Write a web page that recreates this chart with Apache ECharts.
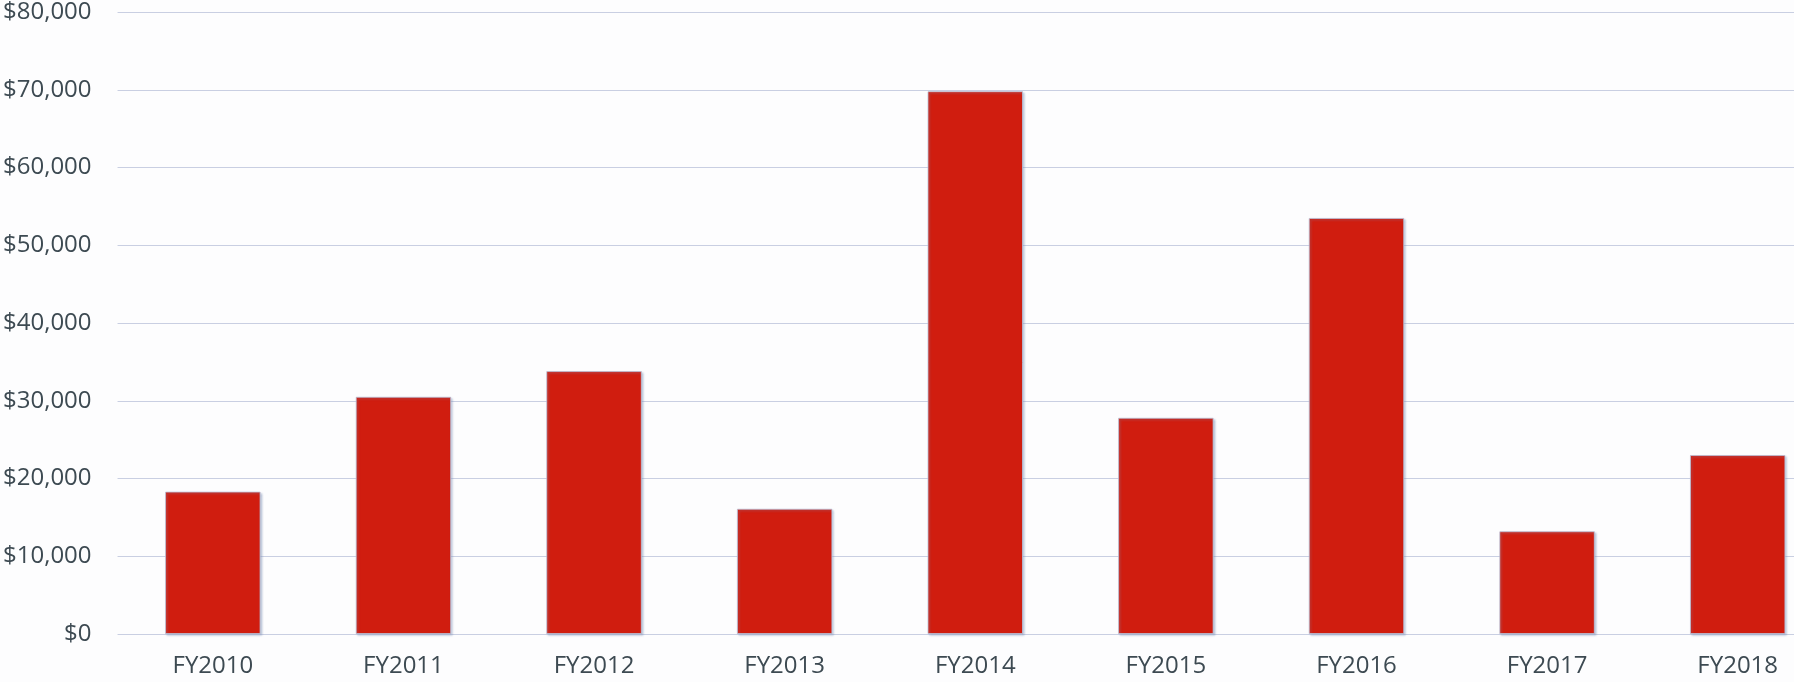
<!DOCTYPE html>
<html>
<head>
<meta charset="utf-8">
<title>Spending by Fiscal Year</title>
<script src="https://cdn.jsdelivr.net/npm/echarts@6/dist/echarts.min.js"></script>
<style>
  html, body { margin: 0; padding: 0; background: #fdfdfe; overflow: hidden; }
  /* the drawing surface is a little wider than the window; the plot runs off the right edge */
  #chart { width: 1840px; height: 682px; }
</style>
</head>
<body>
<div id="chart"></div>
<script>
// Fiscal years and annual totals (US dollars)
const categories = ['FY2010', 'FY2011', 'FY2012', 'FY2013', 'FY2014', 'FY2015', 'FY2016', 'FY2017', 'FY2018'];
const amounts = [18300, 30500, 33800, 16100, 69800, 27800, 53500, 13200, 23000];

// Value axis range and step
const yMin = 0;
const yMax = 80000;
const yStep = 10000;

const textColor = '#3d4a52';
const fontFamily = '"Open Sans", "Noto Sans", sans-serif';

const chart = echarts.init(document.getElementById('chart'), null, { renderer: 'canvas' });

chart.setOption({
  backgroundColor: '#fdfdfe',
  animation: false,
  grid: { left: 117, right: 7, top: 11, bottom: 48, containLabel: false },
  xAxis: {
    type: 'category',
    data: categories,
    axisLine: { show: false },
    axisTick: { show: false },
    axisLabel: { color: textColor, fontSize: 24, fontFamily: fontFamily, margin: 20 }
  },
  yAxis: {
    type: 'value',
    min: yMin,
    max: yMax,
    interval: yStep,
    axisLine: { show: false },
    axisTick: { show: false },
    splitLine: { show: true, lineStyle: { color: '#c9cfe2', width: 1.2 } },
    axisLabel: {
      color: textColor,
      fontSize: 24,
      fontFamily: fontFamily,
      margin: 26,
      formatter: v => '$' + v.toLocaleString('en-US')
    }
  },
  series: [{
    type: 'bar',
    data: amounts,
    barWidth: '50%',
    itemStyle: {
      color: '#d01d0f',
      borderColor: '#b8c4dc',
      borderWidth: 0.8,
      shadowColor: 'rgba(120,140,180,0.45)',
      shadowBlur: 2,
      shadowOffsetX: 1.5,
      shadowOffsetY: 1.5
    }
  }]
});
</script>
</body>
</html>
